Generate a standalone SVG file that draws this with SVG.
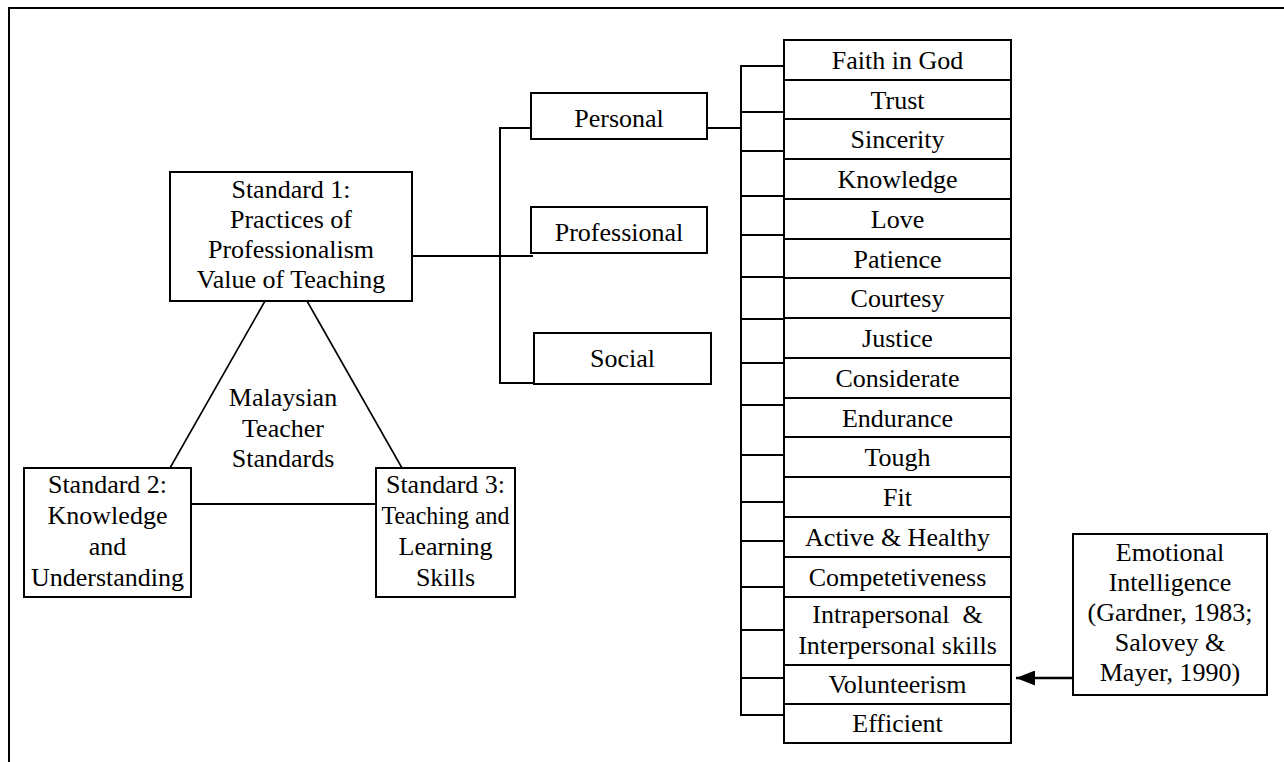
<svg xmlns="http://www.w3.org/2000/svg" width="1284" height="762" viewBox="0 0 1284 762">
  <style>
    .box { fill: #fff; stroke: #000; stroke-width: 2; }
    .ln { fill: none; stroke: #000; stroke-width: 2; }
    .thin { fill: none; stroke: #000; stroke-width: 1.6; }
    text { font-family: "Liberation Serif", "Times New Roman", serif; font-size: 26px; fill: #000; text-anchor: middle; }
  </style>
  <defs>
    <marker id="arrow" viewBox="0 0 10 10" refX="10" refY="5" markerWidth="19" markerHeight="15" markerUnits="userSpaceOnUse" orient="auto" preserveAspectRatio="none">
      <path d="M0,0 L10,5 L0,10 Z" fill="#000"/>
    </marker>
  </defs>

  <rect width="1284" height="762" fill="#fff"/>

  <!-- frame (top and left edges) -->
  <path class="ln" d="M9,762 V8 H1284"/>

  <!-- connectors -->
  <g id="connectors">
    <!-- triangle of standards -->
    <line class="thin" x1="265" y1="301" x2="170" y2="468"/>
    <line class="thin" x1="307" y1="301" x2="402" y2="468"/>
    <line class="ln" x1="191" y1="504" x2="376" y2="504"/>
    <!-- standard 1 to value groups -->
    <line class="ln" x1="412" y1="256" x2="500" y2="256"/>
    <path class="ln" d="M531,128 H500 V383 H534"/>
    <line class="ln" x1="500" y1="256" x2="533" y2="256"/>
    <!-- personal to value list -->
    <line class="ln" x1="707" y1="128" x2="741" y2="128"/>
    <line class="ln" x1="741" y1="65" x2="741" y2="716"/>
    <g class="ticks">
      <line class="ln" x1="741" y1="66" x2="788" y2="66"/>
      <line class="ln" x1="741" y1="112" x2="789" y2="112"/>
      <line class="ln" x1="741" y1="151" x2="788" y2="151"/>
      <line class="ln" x1="741" y1="196" x2="788" y2="196"/>
      <line class="ln" x1="741" y1="235" x2="788" y2="235"/>
      <line class="ln" x1="741" y1="277" x2="788" y2="277"/>
      <line class="ln" x1="741" y1="319" x2="788" y2="319"/>
      <line class="ln" x1="741" y1="363" x2="788" y2="363"/>
      <line class="ln" x1="741" y1="405" x2="788" y2="405"/>
      <line class="ln" x1="741" y1="455" x2="788" y2="455"/>
      <line class="ln" x1="741" y1="502" x2="788" y2="502"/>
      <line class="ln" x1="741" y1="541" x2="788" y2="541"/>
      <line class="ln" x1="741" y1="587" x2="788" y2="587"/>
      <line class="ln" x1="741" y1="630" x2="789" y2="630"/>
      <line class="ln" x1="741" y1="678" x2="789" y2="678"/>
      <line class="ln" x1="741" y1="715" x2="789" y2="715"/>
    </g>
    <!-- emotional intelligence arrow -->
    <line x1="1073" y1="678" x2="1016" y2="678" stroke="#000" stroke-width="2.4" marker-end="url(#arrow)"/>
  </g>

  <!-- standards -->
  <g id="standard1">
    <rect class="box" x="170" y="172" width="242" height="129"/>
    <text x="291" y="198">Standard 1:</text>
    <text x="291" y="228">Practices of</text>
    <text x="291" y="258">Professionalism</text>
    <text x="291" y="288">Value of Teaching</text>
  </g>
  <g id="standard2">
    <rect class="box" x="24" y="468" width="167" height="129"/>
    <text x="107.5" y="493">Standard 2:</text>
    <text x="107.5" y="524">Knowledge</text>
    <text x="107.5" y="555">and</text>
    <text x="107.5" y="586">Understanding</text>
  </g>
  <g id="standard3">
    <rect class="box" x="376" y="468" width="139" height="129"/>
    <text x="445.5" y="493">Standard 3:</text>
    <text x="445.5" y="524" textLength="128" lengthAdjust="spacingAndGlyphs">Teaching and</text>
    <text x="445.5" y="555">Learning</text>
    <text x="445.5" y="586">Skills</text>
  </g>
  <g id="mts-label">
    <text x="283" y="406">Malaysian</text>
    <text x="283" y="437">Teacher</text>
    <text x="283" y="467">Standards</text>
  </g>

  <!-- value groups -->
  <g id="personal">
    <rect class="box" x="531" y="93" width="176" height="46"/>
    <text x="619" y="127">Personal</text>
  </g>
  <g id="professional">
    <rect class="box" x="531" y="207" width="176" height="46"/>
    <text x="619" y="241">Professional</text>
  </g>
  <g id="social">
    <rect class="box" x="534" y="333" width="177" height="51"/>
    <text x="622.5" y="367">Social</text>
  </g>

  <!-- value list -->
  <g id="values">
    <rect class="box" x="784" y="40" width="227" height="703"/>
    <path class="ln" d="M784,80 H1011 M784,119 H1011 M784,159 H1011 M784,199 H1011 M784,239 H1011 M784,278 H1011 M784,318 H1011 M784,358 H1011 M784,398 H1011 M784,437 H1011 M784,477 H1011 M784,517 H1011 M784,557 H1011 M784,597 H1011 M784,665 H1011 M784,704 H1011"/>
    <text x="897.5" y="69">Faith in God</text>
    <text x="897.5" y="109">Trust</text>
    <text x="897.5" y="148">Sincerity</text>
    <text x="897.5" y="188">Knowledge</text>
    <text x="897.5" y="228">Love</text>
    <text x="897.5" y="268">Patience</text>
    <text x="897.5" y="307">Courtesy</text>
    <text x="897.5" y="347">Justice</text>
    <text x="897.5" y="387">Considerate</text>
    <text x="897.5" y="427">Endurance</text>
    <text x="897.5" y="466">Tough</text>
    <text x="897.5" y="506">Fit</text>
    <text x="897.5" y="546">Active &amp; Healthy</text>
    <text x="897.5" y="586">Competetiveness</text>
    <text x="897.5" y="623" xml:space="preserve">Intrapersonal  &amp;</text>
    <text x="897.5" y="654">Interpersonal skills</text>
    <text x="897.5" y="693">Volunteerism</text>
    <text x="897.5" y="732">Efficient</text>
  </g>

  <!-- emotional intelligence -->
  <g id="emotional-intelligence">
    <rect class="box" x="1073" y="534" width="194" height="161"/>
    <text x="1170" y="561">Emotional</text>
    <text x="1170" y="591">Intelligence</text>
    <text x="1170" y="621">(Gardner, 1983;</text>
    <text x="1170" y="651">Salovey &amp;</text>
    <text x="1170" y="681">Mayer, 1990)</text>
  </g>
</svg>
